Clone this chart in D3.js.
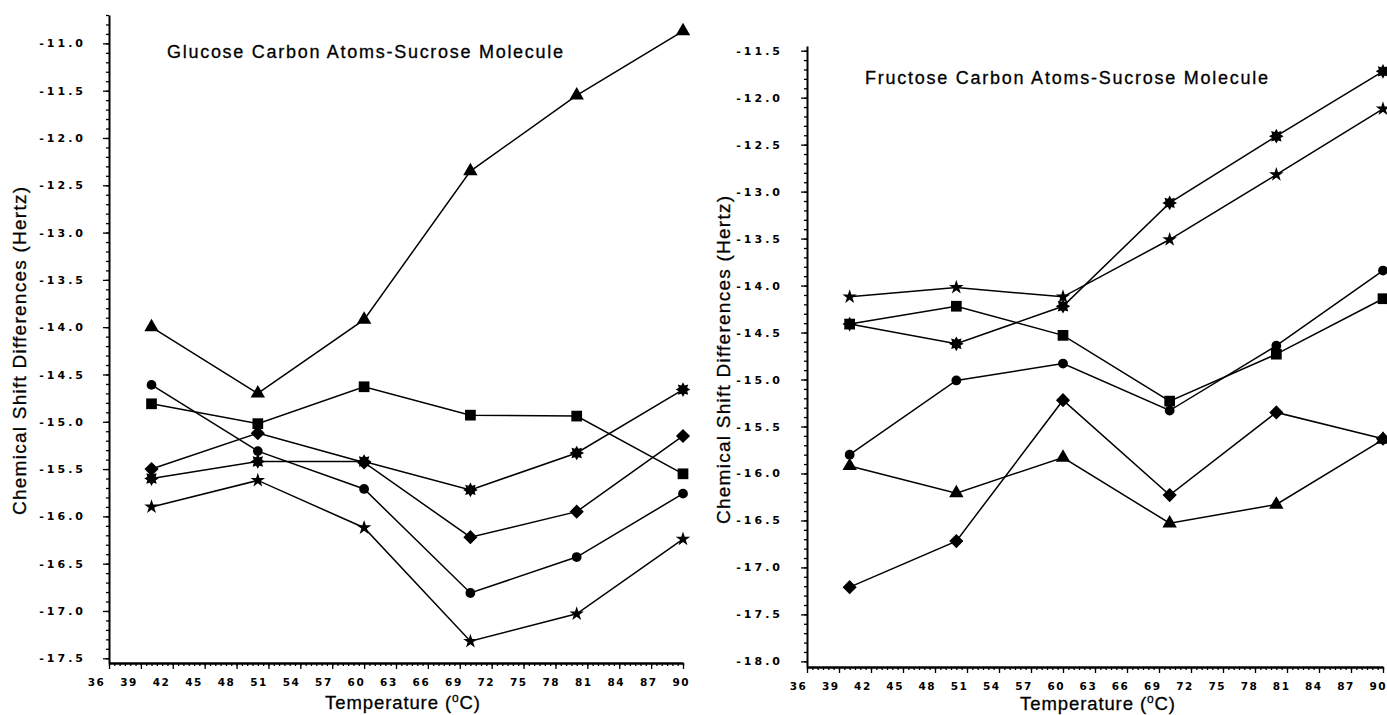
<!DOCTYPE html>
<html>
<head>
<meta charset="utf-8">
<script src="https://cdn.jsdelivr.net/npm/d3@7"></script>
<style>
  body { margin: 0; background: #fff; }
  svg { display: block; background: #fff; }
  .tick-lbl text { font-family: "Liberation Sans Narrow", "DejaVu Sans", sans-serif; font-weight: bold; fill: #000; }
</style>
</head>
<body>
<script>
// temperatures where shifts were measured (deg C)
var temps = [40, 50, 60, 70, 80, 90];
var xTickLabels = [36, 39, 42, 45, 48, 51, 54, 57, 60, 63, 66, 69, 72, 75, 78, 81, 84, 87, 90];

// glucose carbon atoms (left panel)
var glucYTicks = [-11.0, -11.5, -12.0, -12.5, -13.0, -13.5, -14.0, -14.5, -15.0, -15.5, -16.0, -16.5, -17.0, -17.5];
var glucTriangle = [-14.0, -14.7, -13.92, -12.35, -11.55, -10.87];
var glucSquare = [-14.81, -15.02, -14.63, -14.93, -14.94, -15.55];
var glucCircle = [-14.61, -15.31, -15.71, -16.81, -16.43, -15.76];
var glucDiamond = [-15.5, -15.12, -15.43, -16.22, -15.95, -15.15];
var glucBurst = [-15.6, -15.42, -15.42, -15.72, -15.33, -14.66];
var glucStar = [-15.9, -15.62, -16.12, -17.32, -17.03, -16.24];

// fructose carbon atoms (right panel)
var frucYTicks = [-11.5, -12.0, -12.5, -13.0, -13.5, -14.0, -14.5, -15.0, -15.5, -16.0, -16.5, -17.0, -17.5, -18.0];
var frucTriangle = [-15.92, -16.21, -15.83, -16.53, -16.33, -15.64];
var frucSquare = [-14.41, -14.22, -14.53, -15.23, -14.73, -14.14];
var frucCircle = [-15.8, -15.01, -14.83, -15.33, -14.64, -13.84];
var frucDiamond = [-17.21, -16.72, -15.22, -16.23, -15.35, -15.63];
var frucBurst = [-14.41, -14.62, -14.22, -13.12, -12.41, -11.72];
var frucStar = [-14.12, -14.02, -14.12, -13.51, -12.82, -12.12];

var svg = d3.select("body").append("svg")
    .attr("width", 1387)
    .attr("height", 715);

// asterisk-like burst marker
var burst = {
    draw: function (context, size) {
        var r = Math.sqrt(size) * 0.6, ri = r * 0.62, n = 8;
        for (var i = 0; i < 2 * n; i++) {
            var a = Math.PI * i / n - Math.PI / 2;
            var rr = i % 2 ? ri : r;
            if (i === 0) context.moveTo(rr * Math.cos(a), rr * Math.sin(a));
            else context.lineTo(rr * Math.cos(a), rr * Math.sin(a));
        }
        context.closePath();
    }
};

var markers = {
    triangle: { type: d3.symbolTriangle, size: 90, rot: 0 },
    square: { type: d3.symbolSquare, size: 115, rot: 0 },
    circle: { type: d3.symbolCircle, size: 75, rot: 0 },
    diamond: { type: d3.symbolSquare, size: 100, rot: 45 },
    burst: { type: burst, size: 150, rot: 0 },
    star: { type: d3.symbolStar, size: 65, rot: 0 }
};

function fmt(d) { return d.toFixed(1); }

function drawPanel(cfg) {
    var x = d3.scaleLinear().domain([36, 90]).range(cfg.xRange);
    var y = d3.scaleLinear().domain(cfg.yDomain).range(cfg.yRange);
    var x0 = cfg.xRange[0], yb = cfg.yRange[0];

    // minor ticks
    svg.append("g")
        .attr("transform", "translate(0," + yb + ")")
        .call(d3.axisBottom(x).tickValues(d3.range(36, 90.01, 0.5)).tickSize(3).tickFormat(""))
        .call(function (g) { g.select(".domain").remove(); });
    svg.append("g")
        .attr("transform", "translate(" + x0 + ",0)")
        .call(d3.axisLeft(y).tickValues(d3.range(Math.ceil(cfg.yDomain[0] * 10), Math.floor(cfg.yDomain[1] * 10) + 1).map(function (v) { return v / 10; })).tickSize(3).tickFormat(""))
        .call(function (g) { g.select(".domain").remove(); });

    // major ticks + labels (printed labels drift slightly left of their ticks)
    var xa = svg.append("g")
        .attr("class", "tick-lbl")
        .attr("transform", "translate(0," + yb + ")")
        .call(d3.axisBottom(x).tickValues(xTickLabels).tickSize(6).tickSizeOuter(0).tickPadding(10));
    xa.selectAll("text")
        .attr("font-size", 10.5)
        .attr("letter-spacing", "1.5px")
        .attr("dx", function (d) { return cfg.lblOff[0] + (d - 36) * cfg.lblOff[1]; });
    xa.select(".domain").attr("stroke-width", 2.5);

    var ya = svg.append("g")
        .attr("class", "tick-lbl")
        .attr("transform", "translate(" + x0 + ",0)")
        .call(d3.axisLeft(y).tickValues(cfg.yTicks).tickFormat(fmt).tickSize(6).tickSizeOuter(0).tickPadding(cfg.yPad));
    ya.selectAll("text").attr("font-size", 11).attr("letter-spacing", "3px");
    ya.select(".domain").attr("stroke-width", 2);
    svg.selectAll(".tick line").attr("stroke-width", 1.3);

    var line = d3.line()
        .x(function (d, i) { return x(temps[i]); })
        .y(function (d) { return y(d); });

    cfg.series.forEach(function (s) {
        svg.append("path")
            .datum(s.values)
            .attr("d", line)
            .attr("fill", "none")
            .attr("stroke", "#000")
            .attr("stroke-width", 1.5);
    });
    cfg.series.forEach(function (s) {
        var m = markers[s.marker];
        svg.append("g").selectAll("path")
            .data(s.values)
            .join("path")
            .attr("transform", function (d, i) { return "translate(" + x(temps[i]) + "," + y(d) + ") rotate(" + m.rot + ")"; })
            .attr("d", d3.symbol().type(m.type).size(m.size))
            .attr("fill", "#000");
    });

    svg.append("text")
        .attr("x", cfg.titleX)
        .attr("y", cfg.titleY)
        .attr("font-family", "Liberation Sans, Arial, sans-serif")
        .attr("font-size", 18)
        .attr("stroke", "#000")
        .attr("stroke-width", 0.3)
        .attr("textLength", cfg.titleLen)
        .attr("lengthAdjust", "spacing")
        .text(cfg.title);

    var xt = svg.append("text")
        .attr("x", cfg.xLabelX)
        .attr("y", cfg.xLabelY)
        .attr("text-anchor", "middle")
        .attr("font-family", "Liberation Sans, Arial, sans-serif")
        .attr("font-size", 18.5)
        .attr("stroke", "#000")
        .attr("stroke-width", 0.3)
        .attr("letter-spacing", "0.9px");
    xt.append("tspan").text("Temperature (");
    xt.append("tspan").attr("dy", -7).attr("font-size", 12).text("o");
    xt.append("tspan").attr("dy", 7).text("C)");

    svg.append("text")
        .attr("transform", "translate(" + cfg.yLabelX + "," + cfg.yLabelY + ") rotate(-90)")
        .attr("text-anchor", "middle")
        .attr("font-family", "Liberation Sans, Arial, sans-serif")
        .attr("font-size", 19)
        .attr("stroke", "#000")
        .attr("stroke-width", 0.3)
        .attr("textLength", 328)
        .attr("lengthAdjust", "spacing")
        .text("Chemical Shift Differences (Hertz)");
}

drawPanel({
    xRange: [109, 683],
    yDomain: [-17.55, -10.7],
    yRange: [663, 15],
    yTicks: glucYTicks,
    yPad: 17,
    lblOff: [-13, 0.2],
    series: [
        { values: glucTriangle, marker: "triangle" },
        { values: glucSquare, marker: "square" },
        { values: glucCircle, marker: "circle" },
        { values: glucDiamond, marker: "diamond" },
        { values: glucBurst, marker: "burst" },
        { values: glucStar, marker: "star" }
    ],
    title: "Glucose Carbon Atoms-Sucrose Molecule",
    titleX: 167, titleY: 58, titleLen: 396,
    xLabelX: 403, xLabelY: 709,
    yLabelX: 26, yLabelY: 351
});

drawPanel({
    xRange: [807, 1383],
    yDomain: [-18.06, -11.45],
    yRange: [667, 46],
    yTicks: frucYTicks,
    yPad: 18,
    lblOff: [-9, 0.07],
    series: [
        { values: frucTriangle, marker: "triangle" },
        { values: frucSquare, marker: "square" },
        { values: frucCircle, marker: "circle" },
        { values: frucDiamond, marker: "diamond" },
        { values: frucBurst, marker: "burst" },
        { values: frucStar, marker: "star" }
    ],
    title: "Fructose Carbon Atoms-Sucrose Molecule",
    titleX: 865, titleY: 84, titleLen: 403,
    xLabelX: 1098, xLabelY: 710,
    yLabelX: 730, yLabelY: 360
});
</script>
</body>
</html>
